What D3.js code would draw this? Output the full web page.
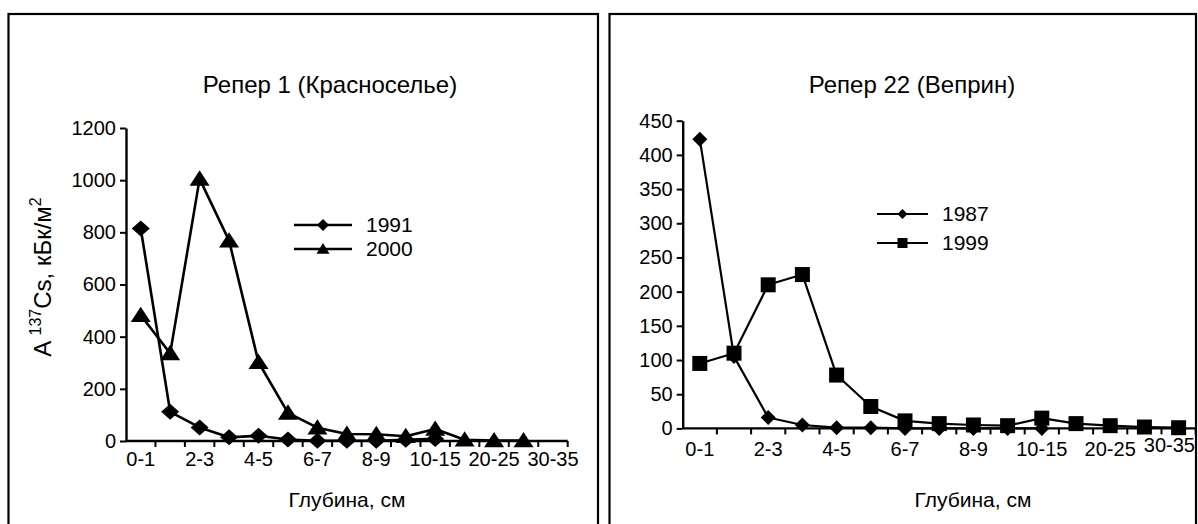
<!DOCTYPE html>
<html>
<head>
<meta charset="utf-8">
<script src="https://cdn.jsdelivr.net/npm/d3@7"></script>
<style>
  html, body { margin: 0; padding: 0; background: #fff; }
  svg { display: block; font-family: "Liberation Sans", Arial, sans-serif; }
</style>
</head>
<body>
<svg id="chart" width="1198" height="524"></svg>
<script>
// Depth layers (cm)
const categories = ["0-1","1-2","2-3","3-4","4-5","5-6","6-7","7-8","8-9","9-10","10-15","15-20","20-25","25-30","30-35"];
const tickLabels = ["0-1","2-3","4-5","6-7","8-9","10-15","20-25","30-35"];

// Репер 1 (Красноселье), кБк/м²
const krasnoselye1991 = [815, 112, 52, 14, 20, 6, 1, 1, 1, 5, 8];
const krasnoselye2000 = [482, 336, 1005, 768, 302, 108, 51, 27, 26, 18, 46, 5, 2, 2];
const krasnoselyeYTicks = [0, 200, 400, 600, 800, 1000, 1200];

// Репер 22 (Веприн), кБк/м²
const veprin1987 = [423, 105, 16, 5, 1, 1, 0, 0, 0, 0, 0];
const veprin1999 = [95, 110, 210, 225, 78, 32, 11, 7, 5, 4, 15, 7, 4, 2, 1];
const veprinYTicks = [0, 50, 100, 150, 200, 250, 300, 350, 400, 450];

const svg = d3.select("#chart");

// panel frames
svg.append("rect").attr("x", 8.5).attr("y", 14).attr("width", 589.5).attr("height", 530)
  .attr("fill", "none").attr("stroke", "#000").attr("stroke-width", 2.2);
svg.append("rect").attr("x", 609.5).attr("y", 14).attr("width", 586.5).attr("height", 530)
  .attr("fill", "none").attr("stroke", "#000").attr("stroke-width", 2.2);

function markerPath(kind, w, h) {
  const a = w / 2, b = h / 2;
  if (kind === "diamond") return `M0,${-b}L${a},0L0,${b}L${-a},0Z`;
  if (kind === "triangle") return `M0,${-b}L${a},${b * 0.8}L${-a},${b * 0.8}Z`;
  return `M${-a},${-b}L${a},${-b}L${a},${b}L${-a},${b}Z`;
}

function drawPanel(cfg) {
  const g = svg.append("g");
  const x = d3.scaleBand().domain(categories).range([cfg.x0, cfg.x1]).padding(0);
  const y = d3.scaleLinear().domain([0, cfg.yMax]).range([cfg.yBase, cfg.yTop]);
  const bw = x.bandwidth();
  const cx = c => x(c) + bw / 2;

  // title
  g.append("text").attr("x", cfg.titleX).attr("y", cfg.titleY)
    .attr("text-anchor", "middle").attr("font-size", cfg.titleSize).text(cfg.title);

  // y axis
  const yAxis = d3.axisLeft(y).tickValues(cfg.yTicks).tickFormat(d3.format("d"))
    .tickSize(6).tickSizeOuter(0).tickPadding(4);
  const ya = g.append("g").attr("transform", `translate(${cfg.x0},0)`).call(yAxis)
    .attr("font-size", cfg.tickSize).attr("font-family", "Liberation Sans, Arial, sans-serif");
  ya.select(".domain").attr("stroke", "#000").attr("stroke-width", 2.4);
  ya.selectAll(".tick line").attr("stroke", "#000").attr("stroke-width", 2);
  ya.selectAll(".tick text").attr("fill", "#000");

  // x axis: line with ticks on band boundaries
  g.append("line").attr("x1", cfg.x0).attr("x2", cfg.x1)
    .attr("y1", cfg.yBase).attr("y2", cfg.yBase)
    .attr("stroke", "#000").attr("stroke-width", 2.4);
  const bounds = categories.slice(1).map(c => x(c)).concat([cfg.x1]);
  g.selectAll(".xt").data(bounds).join("line")
    .attr("x1", d => d).attr("x2", d => d)
    .attr("y1", cfg.yBase).attr("y2", cfg.yBase + 6)
    .attr("stroke", "#000").attr("stroke-width", 2);
  const labels = g.selectAll(".xl").data(tickLabels).join("text")
    .attr("x", d => cx(d)).attr("y", cfg.yBase + cfg.xLabelDy)
    .attr("text-anchor", "middle").attr("font-size", cfg.tickSize).text(d => d);
  // a label running past the frame is pulled inside it
  labels.each(function () {
    const bb = this.getBBox();
    if (bb.x + bb.width > cfg.frameRight) {
      d3.select(this).attr("text-anchor", "end").attr("x", cfg.frameRight - 1)
        .attr("y", cfg.yBase + cfg.xLabelDy - 4);
    }
  });

  // x axis title
  g.append("text").attr("x", cfg.xTitleX).attr("y", cfg.xTitleY)
    .attr("text-anchor", "middle").attr("font-size", cfg.xTitleSize).text("Глубина, см");

  // series
  cfg.series.forEach(s => {
    const pts = s.values.map((v, i) => [cx(categories[i]), y(v)]);
    g.append("path").attr("d", d3.line()(pts))
      .attr("fill", "none").attr("stroke", "#000").attr("stroke-width", cfg.lineWidth)
      .attr("stroke-linejoin", "round");
    g.selectAll(null).data(pts).join("path")
      .attr("transform", d => `translate(${d[0]},${d[1]})`)
      .attr("d", markerPath(s.marker, s.mw, s.mh)).attr("fill", "#000");
  });

  // legend
  cfg.series.forEach((s, i) => {
    const ly = cfg.legendY + i * cfg.legendGap;
    g.append("line").attr("x1", cfg.legendX).attr("x2", cfg.legendX + cfg.legendLen)
      .attr("y1", ly).attr("y2", ly).attr("stroke", "#000").attr("stroke-width", cfg.lineWidth);
    g.append("path").attr("transform", `translate(${cfg.legendX + cfg.legendLen / 2},${ly})`)
      .attr("d", markerPath(s.marker, s.lw, s.lh)).attr("fill", "#000");
    g.append("text").attr("x", cfg.legendX + cfg.legendLen + 14).attr("y", ly + 7)
      .attr("font-size", cfg.legendSize).text(s.name);
  });

  return g;
}

const left = drawPanel({
  title: "Репер 1 (Красноселье)", titleX: 330, titleY: 93, titleSize: 24,
  x0: 126, x1: 567.7, yBase: 441, yTop: 128, yMax: 1200, yTicks: krasnoselyeYTicks,
  tickSize: 20, xLabelDy: 25, frameRight: 597,
  xTitleX: 347, xTitleY: 507, xTitleSize: 21,
  lineWidth: 2.6,
  legendX: 294, legendLen: 58, legendY: 225, legendGap: 24, legendSize: 21,
  series: [
    { name: "1991", values: krasnoselye1991, marker: "diamond", mw: 18, mh: 16, lw: 12, lh: 12 },
    { name: "2000", values: krasnoselye2000, marker: "triangle", mw: 20, mh: 17, lw: 13, lh: 12 }
  ]
});

// y axis title with superscripts
const yt = left.append("text")
  .attr("transform", "translate(51,277) rotate(-90)")
  .attr("text-anchor", "middle").attr("font-size", 24);
yt.append("tspan").text("A ");
yt.append("tspan").attr("dy", -10).attr("font-size", 16).text("137");
yt.append("tspan").attr("dy", 10).text("Cs, кБк/м");
yt.append("tspan").attr("dy", -10).attr("font-size", 16).text("2");

drawPanel({
  title: "Репер 22 (Веприн)", titleX: 912, titleY: 93, titleSize: 24,
  x0: 682.7, x1: 1195.7, yBase: 428.4, yTop: 120.7, yMax: 450, yTicks: veprinYTicks,
  tickSize: 20, xLabelDy: 28, frameRight: 1196,
  xTitleX: 973, xTitleY: 507, xTitleSize: 21,
  lineWidth: 2.2,
  legendX: 877, legendLen: 51, legendY: 214, legendGap: 29, legendSize: 21,
  series: [
    { name: "1987", values: veprin1987, marker: "diamond", mw: 15, mh: 15, lw: 10, lh: 10 },
    { name: "1999", values: veprin1999, marker: "square", mw: 15, mh: 15, lw: 10, lh: 10 }
  ]
});
</script>
</body>
</html>
